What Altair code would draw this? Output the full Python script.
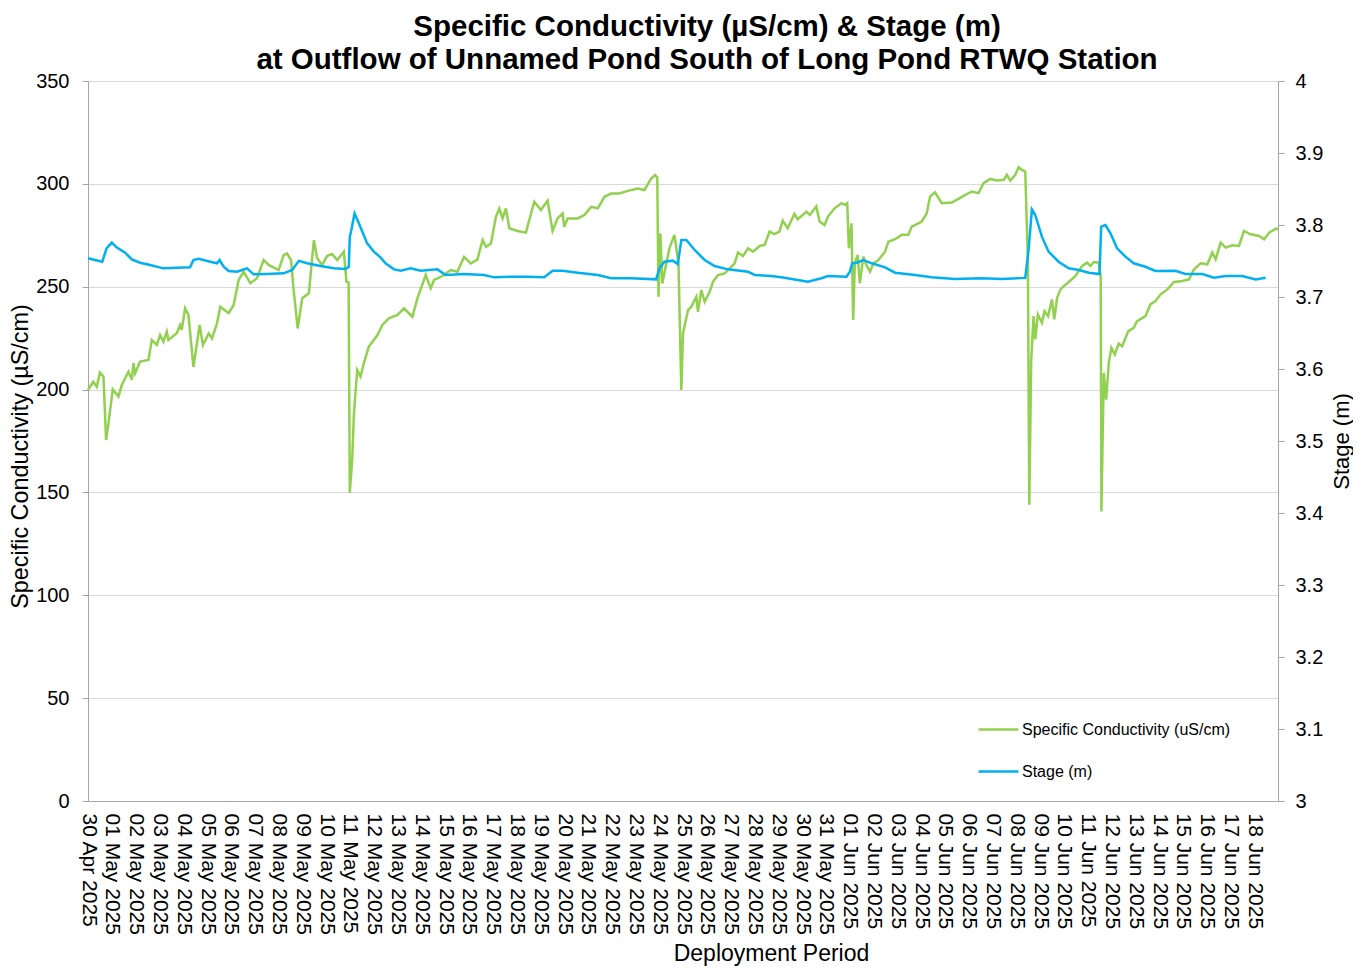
import altair as alt
import pandas as pd

# ---- data (day offset from 30 Apr 2025 00:00) ----
cond_days = [0.00, 0.22, 0.37, 0.50, 0.65, 0.76, 0.86, 1.04, 1.28, 1.42, 1.70, 1.84, 1.91, 1.98,
             2.19, 2.54, 2.68, 2.89, 3.03, 3.17, 3.31, 3.38, 3.73, 3.87, 3.94, 4.08, 4.22, 4.43,
             4.69, 4.83, 5.07, 5.21, 5.42, 5.56, 5.91, 6.12, 6.33, 6.54, 6.82, 7.10, 7.38, 7.59,
             8.01, 8.22, 8.36, 8.53, 8.64, 8.81, 9.00, 9.28, 9.49, 9.63, 9.84, 10.05, 10.26,
             10.47, 10.75, 10.86, 10.95, 11.00, 11.10, 11.17, 11.31, 11.45, 11.59, 11.80, 12.01,
             12.16, 12.37, 12.64, 13.00, 13.28, 13.63, 13.84, 14.19, 14.40, 14.54, 14.89, 15.24,
             15.52, 15.80, 16.08, 16.36, 16.58, 16.72, 16.93, 17.14, 17.28, 17.42, 17.56, 17.70,
             18.05, 18.40, 18.75, 19.03, 19.31, 19.52, 19.73, 19.94, 20.01, 20.15, 20.58, 20.86,
             21.14, 21.42, 21.70, 21.98, 22.33, 22.68, 23.10, 23.38, 23.66, 23.83, 23.92, 23.97,
             24.05, 24.13, 24.43, 24.64, 24.81, 24.93, 25.00, 25.21, 25.35, 25.56, 25.63, 25.77,
             25.91, 26.12, 26.26, 26.47, 26.75, 26.96, 27.17, 27.31, 27.52, 27.73, 27.94, 28.22,
             28.43, 28.64, 28.84, 29.05, 29.19, 29.40, 29.68, 29.82, 30.19, 30.33, 30.60, 30.74,
             30.95, 31.09, 31.37, 31.66, 31.80, 31.90, 31.97, 32.08, 32.15, 32.22, 32.34, 32.43,
             32.58, 32.70, 32.86, 33.00, 33.21, 33.49, 33.63, 33.91, 34.19, 34.47, 34.61, 34.89,
             35.03, 35.24, 35.38, 35.59, 35.87, 36.29, 36.50, 36.86, 37.14, 37.42, 37.63, 37.91,
             38.19, 38.48, 38.61, 38.75, 38.96, 39.10, 39.24, 39.38, 39.49, 39.55, 39.63, 39.73,
             39.80, 39.91, 40.08, 40.19, 40.34, 40.50, 40.60, 40.72, 40.86, 41.00, 41.21, 41.49,
             41.77, 41.98, 42.12, 42.26, 42.47, 42.55, 42.58, 42.68, 42.78, 42.89, 43.00, 43.14,
             43.31, 43.45, 43.71, 43.94, 44.08, 44.43, 44.64, 44.85, 45.07, 45.35, 45.63, 45.98,
             46.26, 46.47, 46.75, 47.03, 47.24, 47.38, 47.59, 47.80, 48.08, 48.36, 48.57, 48.85,
             49.21, 49.42, 49.63, 49.91, 50.00]
cond_vals = [199.8, 203.8, 201.4, 208.2, 206.3, 175.5, 183.6, 200.1, 196.6, 202.2, 208.7, 204.7, 212.8, 207.9,
             213.6, 214.4, 224.1, 221.7, 226.5, 223.3, 228.2, 224.1, 227.4, 231.4, 229.0, 239.5, 236.3, 211.0,
             231.4, 221.7, 227.3, 224.9, 232.2, 240.3, 237.1, 241.1, 253.3, 257.3, 251.7, 254.1, 263.0, 260.6,
             258.1, 265.4, 266.2, 263.0, 248.4, 229.7, 244.4, 246.8, 272.7, 263.8, 260.6, 265.0, 265.9,
             263.0, 267.0, 252.4, 252.0, 149.9, 165.8, 187.6, 209.5, 206.3, 212.8, 220.9, 224.1,
             226.5, 231.4, 234.6, 236.3, 239.5, 235.4, 244.3, 255.7, 249.2, 253.3, 255.2, 258.1,
             257.3, 264.5, 261.3, 263.2, 272.7, 269.4, 271.0, 284.0, 288.0, 283.2, 288.1, 278.4,
             277.1, 276.3, 291.3, 287.3, 291.8, 277.1, 283.2, 285.6, 279.1, 283.2, 283.2, 284.9,
             288.8, 288.1, 293.7, 295.3, 295.3, 296.6, 297.7, 297.0, 302.6, 304.3, 303.0, 245.1,
             275.9, 251.6, 268.8, 275.2, 261.3, 199.8, 227.4, 238.6, 240.3, 245.1, 237.8, 248.4,
             242.7, 247.6, 252.4, 255.7, 256.5, 258.9, 261.4, 266.6, 264.9, 268.7, 267.0, 269.8,
             270.3, 276.8, 275.6, 276.8, 282.1, 278.4, 285.4, 282.8, 286.5, 284.9, 289.0, 281.7,
             280.0, 284.1, 288.1, 290.6, 289.8, 290.6, 268.7, 280.8, 233.8, 261.4, 265.4, 251.6,
             264.6, 260.6, 257.3, 261.4, 263.0, 267.0, 271.9, 273.1, 275.2, 275.2, 279.2, 280.8,
             281.7, 285.7, 293.8, 295.9, 290.6, 290.9, 292.2, 294.6, 296.3, 295.5, 300.3, 302.4,
             301.6, 302.0, 304.4, 301.6, 304.4, 308.1, 306.8, 306.0, 263.0, 144.0, 214.0, 235.7,
             224.4, 236.5, 232.5, 238.1, 235.7, 243.8, 234.1, 244.6, 248.7, 250.3, 252.3, 255.2,
             260.1, 261.7, 260.1, 262.0, 261.7, 255.0, 140.7, 208.1, 195.1, 213.0, 220.3, 217.0,
             222.4, 221.1, 228.4, 230.0, 233.3, 235.7, 241.4, 243.0, 246.3, 248.7, 252.3, 252.8,
             253.6, 258.4, 261.4, 260.9, 266.6, 263.3, 271.4, 269.0, 270.1, 269.8, 277.1, 275.5,
             274.7, 273.1, 276.3, 278.2, 277.9]

stage_days = [0.00, 0.60, 0.78, 1.00, 1.20, 1.56, 1.84, 2.19, 2.61, 3.17, 3.73, 4.29, 4.43, 4.64,
              5.14, 5.42, 5.53, 5.70, 5.91, 6.26, 6.68, 6.96, 7.52, 8.22, 8.58, 8.86, 9.21, 9.77,
              10.33, 10.82, 10.96, 11.00, 11.05, 11.20, 11.38, 11.73, 12.01, 12.29, 12.50, 12.86,
              13.14, 13.56, 13.98, 14.68, 15.03, 15.80, 16.64, 17.07, 17.77, 18.47, 19.17, 19.52,
              19.94, 20.58, 21.42, 21.98, 22.82, 23.87, 24.01, 24.22, 24.57, 24.78, 24.93, 25.14,
              25.49, 25.91, 26.33, 26.89, 27.73, 28.01, 28.71, 29.13, 29.82, 30.25, 30.82, 31.09,
              31.87, 32.01, 32.11, 32.30, 32.58, 32.93, 33.49, 33.91, 34.75, 35.45, 36.43, 37.56,
              38.40, 39.38, 39.52, 39.66, 39.80, 40.08, 40.36, 40.78, 41.21, 41.63, 42.05, 42.50,
              42.57, 42.75, 42.96, 43.24, 43.59, 43.94, 44.43, 44.85, 45.69, 46.11, 46.82, 47.31,
              47.80, 48.50, 49.06, 49.48]
stage_vals = [3.7537, 3.7490, 3.7676, 3.7755, 3.7690, 3.7616, 3.7523, 3.7476, 3.7444, 3.7398, 3.7407, 3.7412, 3.7514, 3.7532,
              3.7490, 3.7468, 3.7514, 3.7420, 3.7361, 3.7351, 3.7398, 3.7315, 3.7319, 3.7329, 3.7375, 3.7502, 3.7468, 3.7430,
              3.7398, 3.7389, 3.7420, 3.7838, 3.7907, 3.8160, 3.8023, 3.7745, 3.7630, 3.7550, 3.7468, 3.7384,
              3.7365, 3.7398, 3.7365, 3.7384, 3.7306, 3.7319, 3.7306, 3.7273, 3.7282, 3.7282, 3.7273, 3.7365,
              3.7365, 3.7338, 3.7306, 3.7260, 3.7260, 3.7245, 3.7398, 3.7490, 3.7505, 3.7458, 3.7792, 3.7792,
              3.7653, 3.7514, 3.7430, 3.7384, 3.7351, 3.7306, 3.7292, 3.7273, 3.7236, 3.7213, 3.7260, 3.7292,
              3.7282, 3.7351, 3.7468, 3.7476, 3.7514, 3.7468, 3.7412, 3.7338, 3.7306, 3.7273, 3.7250, 3.7260,
              3.7250, 3.7265, 3.7653, 3.8215, 3.8139, 3.7838, 3.7630, 3.7490, 3.7398, 3.7375, 3.7338, 3.7319,
              3.7977, 3.8000, 3.7884, 3.7676, 3.7560, 3.7468, 3.7420, 3.7361, 3.7365, 3.7319, 3.7319, 3.7268,
              3.7292, 3.7292, 3.7243, 3.7268]

series_names = ["Specific Conductivity (uS/cm)", "Stage (m)"]
series_colors = ["#92D050", "#00B0F0"]
left_ticks = [0, 50, 100, 150, 200, 250, 300, 350]
right_ticks = [3.0, 3.1, 3.2, 3.3, 3.4, 3.5, 3.6, 3.7, 3.8, 3.9, 4.0]

start = pd.Timestamp("2025-04-30")
tick_dates = [start + pd.Timedelta(days=i) for i in range(50)]


def to_iso(days):
    return [(start + pd.Timedelta(days=d)).strftime("%Y-%m-%dT%H:%M:%S") for d in days]


cond_df = pd.DataFrame({"t": to_iso(cond_days), "v": cond_vals, "series": series_names[0]})
stage_df = pd.DataFrame({"t": to_iso(stage_days), "v": stage_vals, "series": series_names[1]})

FONT = "Liberation Sans"
AXIS_GRAY = "#a6a6a6"

x_enc = alt.X(
    "t:T",
    scale=alt.Scale(domain=[alt.DateTime(year=2025, month=4, date=30),
                            alt.DateTime(year=2025, month=6, date=19)]),
    axis=alt.Axis(
        values=[alt.DateTime(year=d.year, month=d.month, date=d.day) for d in tick_dates],
        format="%d %b %Y", labelAngle=90, ticks=False, grid=False,
        labelFontSize=21, labelPadding=12, labelColor="#000000", labelOverlap=False,
        labelBound=False, labelFlush=False,
        domainColor=AXIS_GRAY, title="Deployment Period", titleFontSize=23,
        titleFontWeight="normal", titleColor="#000000", titlePadding=8, titleX=683,
    ),
)

color_enc = alt.Color(
    "series:N",
    scale=alt.Scale(domain=series_names, range=series_colors),
    legend=alt.Legend(
        orient="none", legendX=889, legendY=627, title=None, symbolType="stroke",
        symbolSize=1600, symbolStrokeWidth=2.5, labelFontSize=16, labelColor="#000000",
        labelOffset=2, rowPadding=12, labelFont=FONT, labelLimit=0,
    ),
)

left = alt.Chart(cond_df).mark_line(strokeWidth=2.5).encode(
    x=x_enc,
    y=alt.Y("v:Q", scale=alt.Scale(domain=[0, 350], nice=False, zero=False),
            axis=alt.Axis(values=left_ticks, grid=True, gridColor="#d9d9d9", gridWidth=1.2,
                          domainColor=AXIS_GRAY, tickColor=AXIS_GRAY, tickSize=6,
                          labelFontSize=20, labelPadding=13, labelColor="#000000",
                          title="Specific Conductivity (µS/cm)", titleFontSize=23.4,
                          titleFontWeight="normal", titleColor="#000000", titlePadding=3,
                          titleY=375)),
    color=color_enc,
)

right = alt.Chart(stage_df).mark_line(strokeWidth=2.5).encode(
    x=x_enc,
    y=alt.Y("v:Q", scale=alt.Scale(domain=[3, 4], nice=False, zero=False),
            axis=alt.Axis(orient="right", values=right_ticks, format="~g", grid=False,
                          domainColor=AXIS_GRAY, tickColor=AXIS_GRAY, tickSize=6,
                          labelFontSize=20, labelPadding=11, labelColor="#000000",
                          title="Stage (m)", titleFontSize=22, titleFontWeight="normal",
                          titleColor="#000000", titlePadding=9, titleAngle=270,
                          titleBaseline="top")),
    color=color_enc,
)

chart = (
    alt.layer(left, right)
    .resolve_scale(y="independent")
    .properties(
        width=1190, height=720,
        padding={"left": 0, "top": 3, "right": 0, "bottom": 0},
        title=alt.TitleParams(
            text=["Specific Conductivity (µS/cm) & Stage (m)",
                  "at Outflow of Unnamed Pond South of Long Pond RTWQ Station"],
            fontSize=29.5, font=FONT, fontWeight="bold", color="#000000",
            anchor="middle", lineHeight=33, offset=-4, dx=24,
        ),
    )
    .configure_axis(labelFont=FONT, titleFont=FONT)
    .configure_legend(labelFont=FONT)
    .configure_view(stroke=None)
)

chart.save("out.html", embed_options={"renderer": "svg", "actions": False})
